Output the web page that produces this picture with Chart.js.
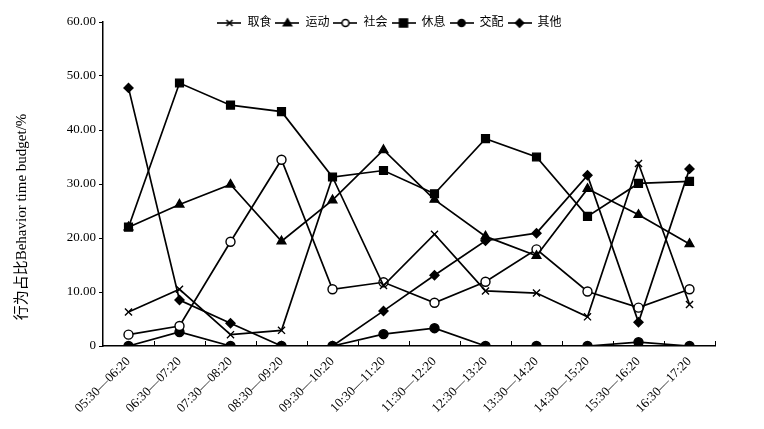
<!DOCTYPE html>
<html>
<head>
<meta charset="utf-8">
<script src="https://cdn.jsdelivr.net/npm/chart.js@4"></script>
<style>
  html, body { margin: 0; padding: 0; background: #fff; }
  #wrap { width: 764px; height: 429px; }
</style>
</head>
<body>
<div id="wrap"><canvas id="chart" width="764" height="429"></canvas></div>
<script>
// time slots on the x axis
const categories = ['05:30—06:20', '06:30—07:20', '07:30—08:20', '08:30—09:20', '09:30—10:20', '10:30—11:20',
                    '11:30—12:20', '12:30—13:20', '13:30—14:20', '14:30—15:20', '15:30—16:20', '16:30—17:20'];

// behaviour time budget, %
const quShi   = [6.3, 10.5, 2.1, 2.9, 31.3, 11.2, 20.7, 10.2, 9.8, 5.4, 33.8, 7.7];
const yunDong = [22.0, 26.2, 29.9, 19.4, 27.0, 36.3, 27.1, 20.3, 16.7, 29.1, 24.3, 18.9];
const sheHui  = [2.1, 3.7, 19.3, 34.5, 10.5, 11.8, 8.0, 11.9, 17.9, 10.1, 7.1, 10.5];
const xiuXi   = [22.0, 48.7, 44.6, 43.4, 31.3, 32.5, 28.2, 38.4, 35.0, 24.0, 30.1, 30.5];
const jiaoPei = [0, 2.6, 0, 0, 0, 2.2, 3.3, 0, 0, 0, 0.7, 0];
const qiTa    = [47.8, 8.5, 4.2, 0, 0, 6.5, 13.1, 19.5, 20.9, 31.6, 4.4, 32.8];

const seriesNames = ['取食', '运动', '社会', '休息', '交配', '其他'];
const yTicks = [0, 10, 20, 30, 40, 50, 60];

const serif = '"Liberation Serif", "Times New Roman", "Noto Sans CJK SC", serif';

// marker look for each series
const markers = [
    { style: 'crossRot', radius: 5, fill: '#000' },
    { style: 'triangle', radius: 5, fill: '#000' },
    { style: 'circle', radius: 4.5, fill: '#fff' },
    { style: 'rect', radius: 5.5, fill: '#000' },
    { style: 'circle', radius: 4.5, fill: '#000' },
    { style: 'rectRot', radius: 4.5, fill: '#000' }
];

// small picture for the legend: line with the marker in the middle
function legendIcon(m) {
    const c = document.createElement('canvas');
    c.width = 24;
    c.height = 12;
    const ctx = c.getContext('2d');
    ctx.strokeStyle = '#000';
    ctx.fillStyle = m.fill;
    ctx.lineWidth = 1.6;
    ctx.beginPath();
    ctx.moveTo(0, 6);
    ctx.lineTo(24, 6);
    ctx.stroke();
    const r = 4;
    ctx.beginPath();
    if (m.style === 'crossRot') {
        ctx.moveTo(12 - 3, 3); ctx.lineTo(12 + 3, 9);
        ctx.moveTo(12 + 3, 3); ctx.lineTo(12 - 3, 9);
        ctx.stroke();
        return c;
    }
    if (m.style === 'triangle') {
        ctx.moveTo(12, 6 - r); ctx.lineTo(12 + r, 6 + r * 0.7); ctx.lineTo(12 - r, 6 + r * 0.7);
        ctx.closePath();
    } else if (m.style === 'circle') {
        ctx.arc(12, 6, 3.5, 0, Math.PI * 2);
    } else if (m.style === 'rect') {
        ctx.rect(12 - 4, 2, 8, 8);
    } else if (m.style === 'rectRot') {
        ctx.moveTo(12, 6 - r); ctx.lineTo(12 + r, 6); ctx.lineTo(12, 6 + r); ctx.lineTo(12 - r, 6);
        ctx.closePath();
    }
    ctx.fill();
    ctx.stroke();
    return c;
}

const allValues = [quShi, yunDong, sheHui, xiuXi, jiaoPei, qiTa];

const datasets = allValues.map((vals, i) => ({
    label: seriesNames[i],
    data: vals,
    borderColor: '#000',
    borderWidth: 1.7,
    backgroundColor: markers[i].fill,
    pointStyle: markers[i].style,
    pointRadius: markers[i].radius,
    pointBorderColor: '#000',
    pointBorderWidth: 1.4,
    pointBackgroundColor: markers[i].fill,
    tension: 0,
    fill: false
}));

const icons = markers.map(legendIcon);

// y axis title, x tick marks pointing up, legend moved into place
const extras = {
    id: 'extras',
    afterLayout(chart) {
        const lg = chart.legend;
        const dy = 26 - (lg.top + lg.bottom) / 2;
        const dx = 32;
        lg.top += dy;
        lg.bottom += dy;
        lg.left += dx;
        lg.right += dx;
    },
    afterDraw(chart) {
        const ctx = chart.ctx;
        const x = chart.scales.x;
        const area = chart.chartArea;
        ctx.save();
        ctx.strokeStyle = '#000';
        ctx.lineWidth = 1;
        for (let i = 1; i <= categories.length; i++) {
            let px;
            if (i === categories.length) px = x.right;
            else px = (x.getPixelForValue(i - 1) + x.getPixelForValue(i)) / 2;
            px = Math.round(px) + 0.5;
            ctx.beginPath();
            ctx.moveTo(px, area.bottom);
            ctx.lineTo(px, area.bottom - 5);
            ctx.stroke();
        }
        // rotated axis title
        ctx.translate(22, 217);
        ctx.rotate(-Math.PI / 2);
        ctx.fillStyle = '#000';
        ctx.font = '15px ' + serif;
        ctx.textAlign = 'center';
        ctx.textBaseline = 'middle';
        ctx.fillText('行为占比Behavior time budget/%', 0, 0);
        ctx.restore();
    }
};

const chart = new Chart(document.getElementById('chart'), {
    type: 'line',
    data: { labels: categories, datasets: datasets },
    options: {
        responsive: false,
        animation: false,
        layout: { padding: { top: -4, right: 49, bottom: 0, left: 0 } },
        plugins: {
            legend: {
                position: 'top',
                align: 'center',
                labels: {
                    usePointStyle: true,
                    pointStyleWidth: 24,
                    padding: 4,
                    color: '#000',
                    font: { size: 12, family: serif },
                    generateLabels(chart) {
                        return seriesNames.map((name, i) => ({
                            text: name,
                            pointStyle: icons[i],
                            fillStyle: '#000',
                            strokeStyle: '#000',
                            lineWidth: 0,
                            fontColor: '#000',
                            datasetIndex: i,
                            hidden: false
                        }));
                    }
                }
            },
            tooltip: { enabled: false }
        },
        scales: {
            x: {
                offset: true,
                grid: { display: false, drawTicks: false },
                border: { display: true, color: '#000', width: 1.5 },
                ticks: {
                    color: '#000',
                    font: { size: 13, family: serif },
                    minRotation: 45,
                    maxRotation: 45,
                    padding: 8,
                    autoSkip: false
                },
                afterFit(scale) { scale.height = 83; }
            },
            y: {
                min: 0,
                max: 60,
                afterBuildTicks(scale) { scale.ticks = yTicks.map(v => ({ value: v })); },
                grid: { drawOnChartArea: false, drawTicks: true, tickLength: 4, color: '#000' },
                border: { display: true, color: '#000', width: 1.5 },
                ticks: {
                    color: '#000',
                    font: { size: 13, family: serif },
                    padding: 3,
                    callback: v => v === 0 ? '0' : v.toFixed(2)
                },
                afterFit(scale) { scale.width = 103; }
            }
        }
    },
    plugins: [extras]
});
</script>
</body>
</html>
